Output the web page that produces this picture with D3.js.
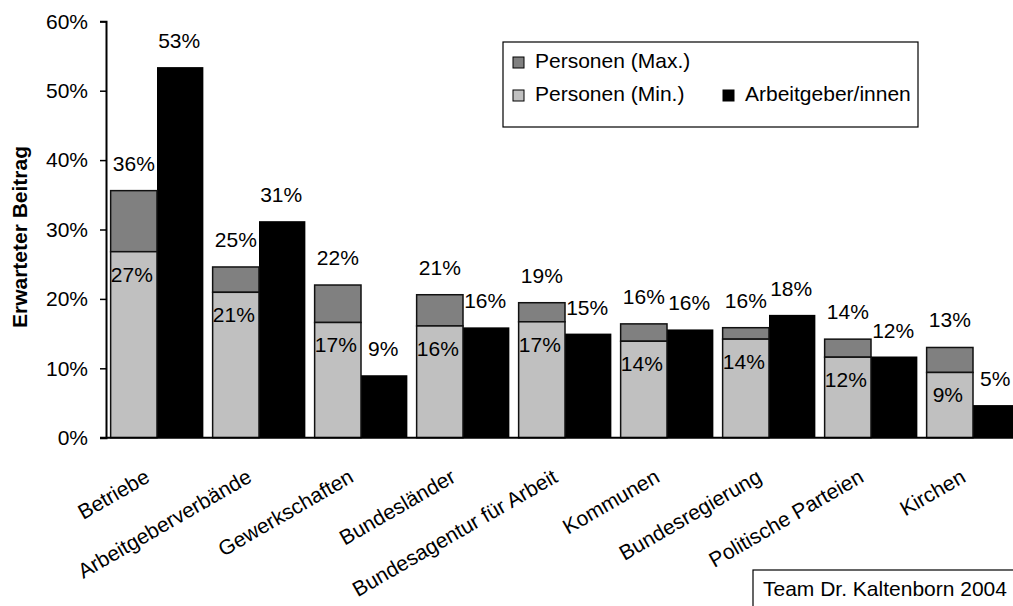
<!DOCTYPE html>
<html>
<head>
<meta charset="utf-8">
<script src="https://cdn.jsdelivr.net/npm/d3@7"></script>
<style>
  html, body { margin: 0; padding: 0; background: #fff; }
  svg { display: block; }
  text { font-family: "Liberation Sans", Arial, sans-serif; fill: #000; }
</style>
</head>
<body>
<svg id="chart" width="1013" height="606"></svg>
<script>
// ---- data ----
const categories = ["Betriebe", "Arbeitgeberverbände", "Gewerkschaften", "Bundesländer",
  "Bundesagentur für Arbeit", "Kommunen", "Bundesregierung", "Politische Parteien", "Kirchen"];
const personenMin = [0.268, 0.2095, 0.166, 0.161, 0.167, 0.139, 0.142, 0.116, 0.094];
const personenMax = [0.356, 0.246, 0.220, 0.206, 0.1945, 0.164, 0.1585, 0.142, 0.130];
const arbeitgeber = [0.534, 0.312, 0.090, 0.159, 0.150, 0.156, 0.177, 0.117, 0.047];
const yTicks = [0, 0.1, 0.2, 0.3, 0.4, 0.5, 0.6];
const seriesNames = ["Personen (Max.)", "Personen (Min.)", "Arbeitgeber/innen"];
const yTitle = "Erwarteter Beitrag";
const sourceNote = "Team Dr. Kaltenborn 2004";

// ---- layout ----
const svg = d3.select("#chart");
const W = 1013, H = 606;
const plotLeft = 106, plotTop = 21.3, plotBottom = 437.7;
const colors = { max: "#808080", min: "#c0c0c0", arb: "#000000" };
const fs = 21;

svg.append("rect").attr("width", W).attr("height", H).attr("fill", "#fff");

const x0 = d3.scaleBand().domain(categories).range([plotLeft, plotLeft + 9 * 102]).padding(0);
const x1 = d3.scaleBand().domain(["pers", "arb"]).range([0, x0.bandwidth()])
  .paddingInner(0).paddingOuter(0.1);
const y = d3.scaleLinear().domain([0, 0.6]).range([plotBottom, plotTop]);
const pct = d3.format(".0%");

// ---- y axis ----
const yAxis = d3.axisLeft(y).tickValues(yTicks).tickFormat(pct).tickSize(6).tickPadding(12);
const gy = svg.append("g").attr("transform", `translate(${plotLeft},0)`).call(yAxis);
gy.select(".domain").attr("stroke", "#000").attr("stroke-width", 2);
gy.selectAll(".tick line").attr("stroke", "#000").attr("stroke-width", 1.5);
gy.selectAll(".tick text").attr("font-size", fs).attr("font-family", "Liberation Sans, Arial, sans-serif").attr("fill", "#000");

svg.append("text")
  .attr("transform", `translate(27,237) rotate(-90)`)
  .attr("text-anchor", "middle")
  .attr("font-size", 21).attr("font-weight", "bold")
  .text(yTitle);

// ---- bars ----
const data = categories.map((c, i) => ({ c, min: personenMin[i], max: personenMax[i], arb: arbeitgeber[i] }));
const g = svg.append("g");
const grp = g.selectAll("g.cat").data(data).join("g").attr("class", "cat")
  .attr("transform", d => `translate(${x0(d.c)},0)`);

grp.append("rect")
  .attr("x", x1("arb")).attr("width", x1.bandwidth())
  .attr("y", d => y(d.arb)).attr("height", d => y(0) - y(d.arb))
  .attr("fill", colors.arb);

grp.append("rect")
  .attr("x", x1("pers")).attr("width", x1.bandwidth())
  .attr("y", d => y(d.max)).attr("height", d => y(d.min) - y(d.max))
  .attr("fill", colors.max).attr("stroke", "#111").attr("stroke-width", 1.5);
grp.append("rect")
  .attr("x", x1("pers")).attr("width", x1.bandwidth())
  .attr("y", d => y(d.min)).attr("height", d => y(0) - y(d.min))
  .attr("fill", colors.min).attr("stroke", "#111").attr("stroke-width", 1.5);

const cxP = x1("pers") + x1.bandwidth() / 2;
const cxA = x1("arb") + x1.bandwidth() / 2;
grp.append("text").attr("x", cxP).attr("y", d => y(d.max) - 20)
  .attr("text-anchor", "middle").attr("font-size", fs).text(d => pct(d.max));
grp.append("text").attr("x", cxP - 2).attr("y", d => y(d.min) + 30)
  .attr("text-anchor", "middle").attr("font-size", fs).text(d => pct(d.min));
grp.append("text").attr("x", cxA - 1).attr("y", d => y(d.arb) - 19)
  .attr("text-anchor", "middle").attr("font-size", fs).text(d => pct(d.arb));

// ---- x axis ----
svg.append("line").attr("x1", plotLeft - 6).attr("x2", W + 20)
  .attr("y1", plotBottom).attr("y2", plotBottom).attr("stroke", "#000").attr("stroke-width", 2);

svg.append("g").selectAll("text").data(categories).join("text")
  .attr("transform", d => `translate(${x0(d) + x0.bandwidth() / 2 - 6},481) rotate(-30)`)
  .attr("text-anchor", "end").attr("font-size", fs).text(d => d);

// ---- legend ----
const lg = svg.append("g");
lg.append("rect").attr("x", 503).attr("y", 42).attr("width", 415).attr("height", 85)
  .attr("fill", "#fff").attr("stroke", "#000").attr("stroke-width", 1.2);
const legendItems = [
  { name: seriesNames[0], color: colors.max, x: 513, y: 57 },
  { name: seriesNames[1], color: colors.min, x: 513, y: 90 },
  { name: seriesNames[2], color: colors.arb, x: 723, y: 90 }
];
legendItems.forEach(it => {
  lg.append("rect").attr("x", it.x).attr("y", it.y).attr("width", 11).attr("height", 11)
    .attr("fill", it.color).attr("stroke", "#000").attr("stroke-width", 1);
  lg.append("text").attr("x", it.x + 22).attr("y", it.y + 11).attr("font-size", fs).text(it.name);
});

// ---- source note ----
svg.append("rect").attr("x", 753).attr("y", 570).attr("width", 300).attr("height", 60)
  .attr("fill", "#fff").attr("stroke", "#000").attr("stroke-width", 1.2);
svg.append("text").attr("x", 763).attr("y", 596).attr("font-size", fs).text(sourceNote);
</script>
</body>
</html>
